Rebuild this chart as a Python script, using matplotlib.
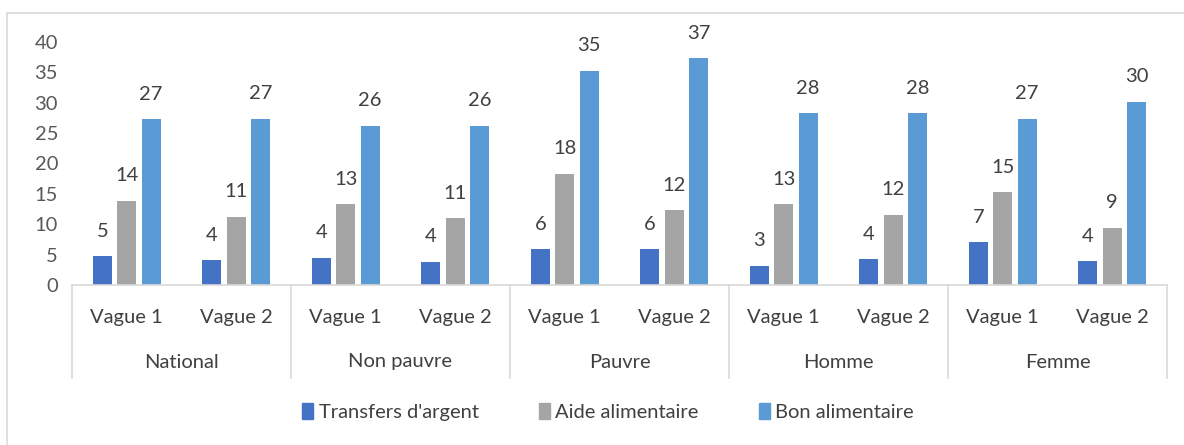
import matplotlib.pyplot as plt
import matplotlib.transforms as mtransforms
from matplotlib.lines import Line2D
from matplotlib.patches import Patch
import numpy as np

plt.rcParams['font.family'] = ['Lato', 'DejaVu Sans']

categories = ['National', 'Non pauvre', 'Pauvre', 'Homme', 'Femme']
waves = ['Vague 1', 'Vague 2']
series_names = ["Transfers d'argent", 'Aide alimentaire', 'Bon alimentaire']

# one value per (category, wave), in order National V1, National V2, ...
transferts = [4.7, 4.1, 4.5, 3.85, 5.9, 5.9, 3.2, 4.2, 7.0, 3.9]
aide = [13.9, 11.2, 13.3, 11.0, 18.3, 12.3, 13.3, 11.6, 15.3, 9.4]
bon = [27.3, 27.4, 26.2, 26.2, 35.3, 37.3, 28.3, 28.3, 27.4, 30.2]

colors = ['#4472C4', '#A5A5A5', '#5B9BD5']
text_col = '#404040'
tick_col = '#595959'
line_col = '#D9D9D9'
fs = 14.5

fig = plt.figure(figsize=(11.84, 4.45), dpi=100)
ax = fig.add_axes([72 / 1184, 1 - 285 / 445, 1095 / 1184, 243 / 445])

n = len(transferts)
x = np.arange(n)
width = 0.174
step = 0.223
for i, vals in enumerate([transferts, aide, bon]):
    pos = x + (i - 1) * step
    ax.bar(pos, vals, width=width, color=colors[i], label=series_names[i], zorder=2)
    for p, v in zip(pos, vals):
        ax.annotate(f'{v:.0f}', (p, v), xytext=(0, 18), textcoords='offset points',
                    ha='center', va='center', fontsize=fs, color=text_col)

ax.set_xlim(-0.5, n - 0.5)
ax.set_ylim(0, 40)
ax.set_yticks(range(0, 41, 5))
ax.tick_params(axis='y', length=0, labelsize=fs, labelcolor=tick_col, pad=10)
ax.set_xticks(x)
ax.set_xticklabels(waves * len(categories))
ax.tick_params(axis='x', length=0, labelsize=fs, labelcolor=text_col, pad=17)

for s in ['top', 'right', 'left']:
    ax.spines[s].set_visible(False)
ax.spines['bottom'].set_color(line_col)
ax.spines['bottom'].set_linewidth(1.2)

trans = mtransforms.blended_transform_factory(ax.transData, ax.transAxes)
bottom_sep = -(378 - 285) / 243
for k in range(len(categories) + 1):
    xs = -0.5 + 2 * k
    ax.add_line(Line2D([xs, xs], [0, bottom_sep], transform=trans, color=line_col,
                       lw=1.2, clip_on=False))
for k, c in enumerate(categories):
    ax.text(2 * k + 0.5, -(362 - 285) / 243, c, transform=trans, ha='center', va='center',
            fontsize=fs, color=text_col)

handles = [Patch(color=colors[i], label=series_names[i]) for i in range(3)]
fig.legend(handles=handles, loc='center', bbox_to_anchor=(608 / 1184, 1 - 412 / 445),
           ncol=3, frameon=False, fontsize=fs, handlelength=0.55, handleheight=0.85,
           handletextpad=0.25, columnspacing=3.0, labelcolor=text_col)

# outer chart border
fig.add_artist(Line2D([7 / 1184, 7 / 1184], [0, 1 - 13 / 445], transform=fig.transFigure,
                      color=line_col, lw=1.2))
fig.add_artist(Line2D([7 / 1184, 1], [1 - 13 / 445, 1 - 13 / 445], transform=fig.transFigure,
                      color=line_col, lw=1.2))

fig.savefig('out.png', dpi=100)
